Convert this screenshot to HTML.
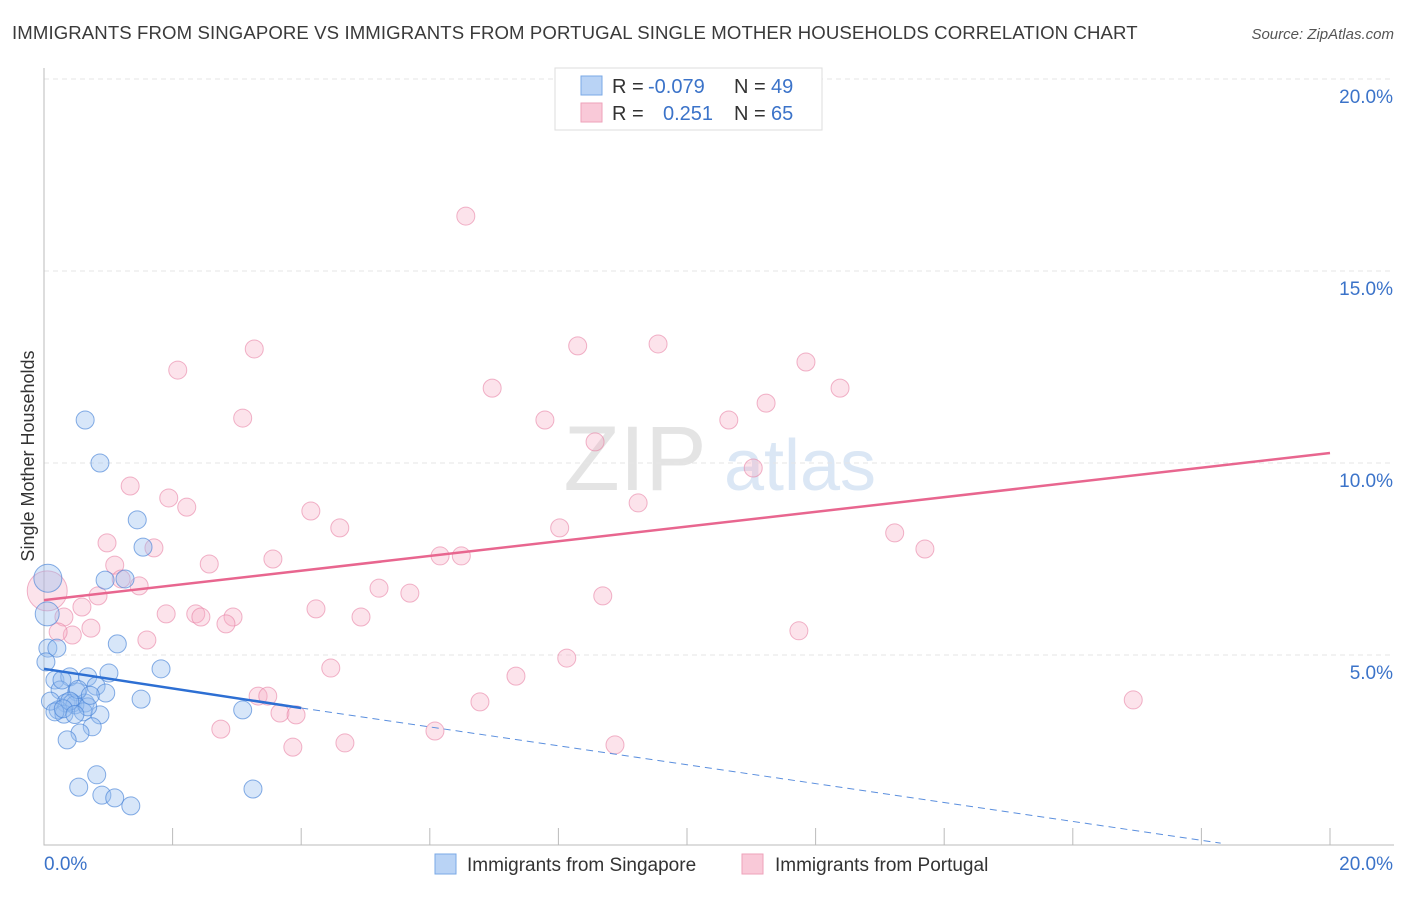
<!DOCTYPE html>
<html><head><meta charset="utf-8"><style>
body{margin:0;background:#fff;font-family:"Liberation Sans",sans-serif;}
svg text{font-family:"Liberation Sans",sans-serif;}
</style></head><body>
<svg id="c" width="1406" height="892" viewBox="0 0 1406 892">
<text x="12" y="39" font-size="18.6" letter-spacing="0.1" fill="#3a3a3a">IMMIGRANTS FROM SINGAPORE VS IMMIGRANTS FROM PORTUGAL SINGLE MOTHER HOUSEHOLDS CORRELATION CHART</text>
<text x="1394" y="39" font-size="15" fill="#555" font-style="italic" text-anchor="end">Source: ZipAtlas.com</text>
<text x="34" y="456" font-size="18" fill="#333" text-anchor="middle" transform="rotate(-90 34 456)">Single Mother Households</text>
<g><text x="635" y="490" font-size="92" fill="#e4e4e4" font-family="Liberation Serif" text-anchor="middle">ZIP</text><text x="800" y="490" font-size="72" fill="#dbe7f5" text-anchor="middle">atlas</text></g>
<g id="grid"></g><g id="axes"></g><g id="pts"></g><g id="trend"></g>
<g>
<rect x="555" y="68" width="267" height="62" fill="#fff" stroke="#ddd"/>
<rect x="581" y="76" width="21" height="19" fill="#b9d3f5" stroke="#7aa8e6"/>
<rect x="581" y="103" width="21" height="19" fill="#f9c9d8" stroke="#eea2ba"/>
<text x="612" y="93" font-size="20" fill="#333">R =</text><text x="648" y="93" font-size="20" fill="#3b73c9">-0.079</text>
<text x="734" y="93" font-size="20" fill="#333">N =</text><text x="771" y="93" font-size="20" fill="#3b73c9">49</text>
<text x="612" y="120" font-size="20" fill="#333">R =</text><text x="663" y="120" font-size="20" fill="#3b73c9">0.251</text>
<text x="734" y="120" font-size="20" fill="#333">N =</text><text x="771" y="120" font-size="20" fill="#3b73c9">65</text>
</g>
<g>
<rect x="435" y="854" width="21" height="20" fill="#b9d3f5" stroke="#7aa8e6"/>
<text x="467" y="871" font-size="19" fill="#333">Immigrants from Singapore</text>
<rect x="742" y="854" width="21" height="20" fill="#f9c9d8" stroke="#eea2ba"/>
<text x="775" y="871" font-size="19" fill="#333">Immigrants from Portugal</text>
</g>
</svg>
<script>
const yTicks=[5,10,15,20];
const yTickLabels=["5.0%","10.0%","15.0%","20.0%"];
const xTicks=[0,2,4,6,8,10,12,14,16,18,20];
const xTickLabels=["0.0%","20.0%"];
const blueX=[0.64,0.87,1.45,1.54,0.95,1.26,0.06,0.05,1.14,0.06,0.2,0.03,1.82,1.01,0.17,0.4,0.68,0.81,0.25,0.51,0.96,1.51,0.34,0.44,0.64,0.48,0.22,0.61,0.31,0.87,3.09,0.75,0.56,0.36,0.82,0.54,0.9,1.1,1.35,3.25,0.1,0.28,0.53,0.4,0.68,0.17,0.3,0.72,0.48];
const blueY=[11.12,10.0,8.52,7.81,6.95,6.98,7.0,6.07,5.29,5.18,5.18,4.82,4.64,4.53,4.35,4.43,4.43,4.19,4.09,4.04,4.01,3.85,3.75,3.75,3.75,3.7,3.57,3.52,3.46,3.44,3.57,3.13,2.97,2.79,1.88,1.56,1.35,1.28,1.07,1.51,3.8,4.35,4.1,3.8,3.65,3.52,3.6,3.95,3.45];
const blueR=[9,9,9,9,9,9,14,12,9,9,9,9,9,9,9,9,9,9,9,9,9,9,9,9,9,9,9,9,9,9,9,9,9,9,9,9,9,9,9,9,9,9,9,9,9,9,9,9,9];
const pinkX=[6.56,2.08,3.27,8.30,9.55,11.85,12.38,6.97,3.09,7.79,10.65,11.23,8.57,11.03,1.34,1.94,2.22,4.15,4.60,8.02,9.24,13.23,13.70,0.98,1.71,6.16,6.49,3.56,2.57,1.10,1.20,1.48,0.84,5.21,5.69,8.69,0.59,4.23,1.90,2.36,2.44,2.94,4.93,0.31,0.73,2.83,0.44,1.60,0.22,11.74,8.13,4.46,7.34,3.33,3.48,6.78,16.94,3.67,3.92,2.75,6.08,4.68,3.87,8.88,0.05];
const pinkY=[16.43,12.42,12.97,13.05,13.10,12.63,11.95,11.95,11.17,11.12,11.12,11.56,10.55,9.87,9.40,9.09,8.85,8.75,8.31,8.31,8.96,8.18,7.76,7.92,7.79,7.58,7.58,7.50,7.37,7.34,6.98,6.80,6.54,6.74,6.61,6.54,6.25,6.20,6.07,6.07,5.99,5.99,5.99,5.99,5.70,5.81,5.52,5.39,5.60,5.63,4.92,4.66,4.45,3.93,3.93,3.78,3.83,3.49,3.44,3.07,3.02,2.71,2.60,2.66,6.67];
const pinkBig=[64];
const pinkTrend=[0,6.43,20,10.26];
const blueTrendSolid=[0,4.64,4.0,3.62];
const blueTrendDash=[4.0,3.62,18.3,0.1];
const X=v=>44+v*64.3, Y=v=>847-v*38.4;
const NS="http://www.w3.org/2000/svg";
function mk(t,a,p){const e=document.createElementNS(NS,t);for(const k in a)e.setAttribute(k,a[k]);p.appendChild(e);return e;}
const grid=document.getElementById('grid'),axes=document.getElementById('axes'),pts=document.getElementById('pts'),tr=document.getElementById('trend');
yTicks.forEach((t,i)=>{
 const l=mk('line',{x1:44,x2:1394,y1:Y(t),y2:Y(t),stroke:'#e6e6e6','stroke-dasharray':'5,4'},grid);
 
 
 const tx=mk('text',{x:1393,y:Y(t)+24,'font-size':19,fill:'#3b73c9','text-anchor':'end'},axes);tx.textContent=yTickLabels[i];
 
 
});
const ax=mk('path',{d:'M44 68V845H1394',stroke:'#bbb',fill:'none'},axes);


xTicks.forEach(t=>{const l=mk('line',{x1:X(t),x2:X(t),y1:828,y2:845,stroke:'#bbb'},axes);
 
 });
const xl0=mk('text',{x:44,y:870,'font-size':19,fill:'#3b73c9'},axes);xl0.textContent=xTickLabels[0];


const xl1=mk('text',{x:1393,y:870,'font-size':19,fill:'#3b73c9','text-anchor':'end'},axes);xl1.textContent=xTickLabels[1];


pinkX.forEach((v,i)=>{const c=mk('circle',{cx:X(v),cy:Y(pinkY[i]),r:pinkBig.includes(i)?20:9,fill:'rgba(246,176,198,0.35)',stroke:'rgba(232,130,165,0.6)','stroke-width':1},pts);
 
 });
blueX.forEach((v,i)=>{const c=mk('circle',{cx:X(v),cy:Y(blueY[i]),r:blueR[i],fill:'rgba(150,190,240,0.38)',stroke:'rgba(70,130,215,0.65)','stroke-width':1},pts);
 
 });
const p1=mk('line',{x1:X(pinkTrend[0]),y1:Y(pinkTrend[1]),x2:X(pinkTrend[2]),y2:Y(pinkTrend[3]),stroke:'#e8668f','stroke-width':2.5},tr);


const b1=mk('line',{x1:X(blueTrendSolid[0]),y1:Y(blueTrendSolid[1]),x2:X(blueTrendSolid[2]),y2:Y(blueTrendSolid[3]),stroke:'#2d6fd3','stroke-width':2.5},tr);


const b2=mk('line',{x1:X(blueTrendDash[0]),y1:Y(blueTrendDash[1]),x2:X(blueTrendDash[2]),y2:Y(blueTrendDash[3]),stroke:'#5b8fde','stroke-width':1,'stroke-dasharray':'7,5'},tr);


</script>
</body></html>
